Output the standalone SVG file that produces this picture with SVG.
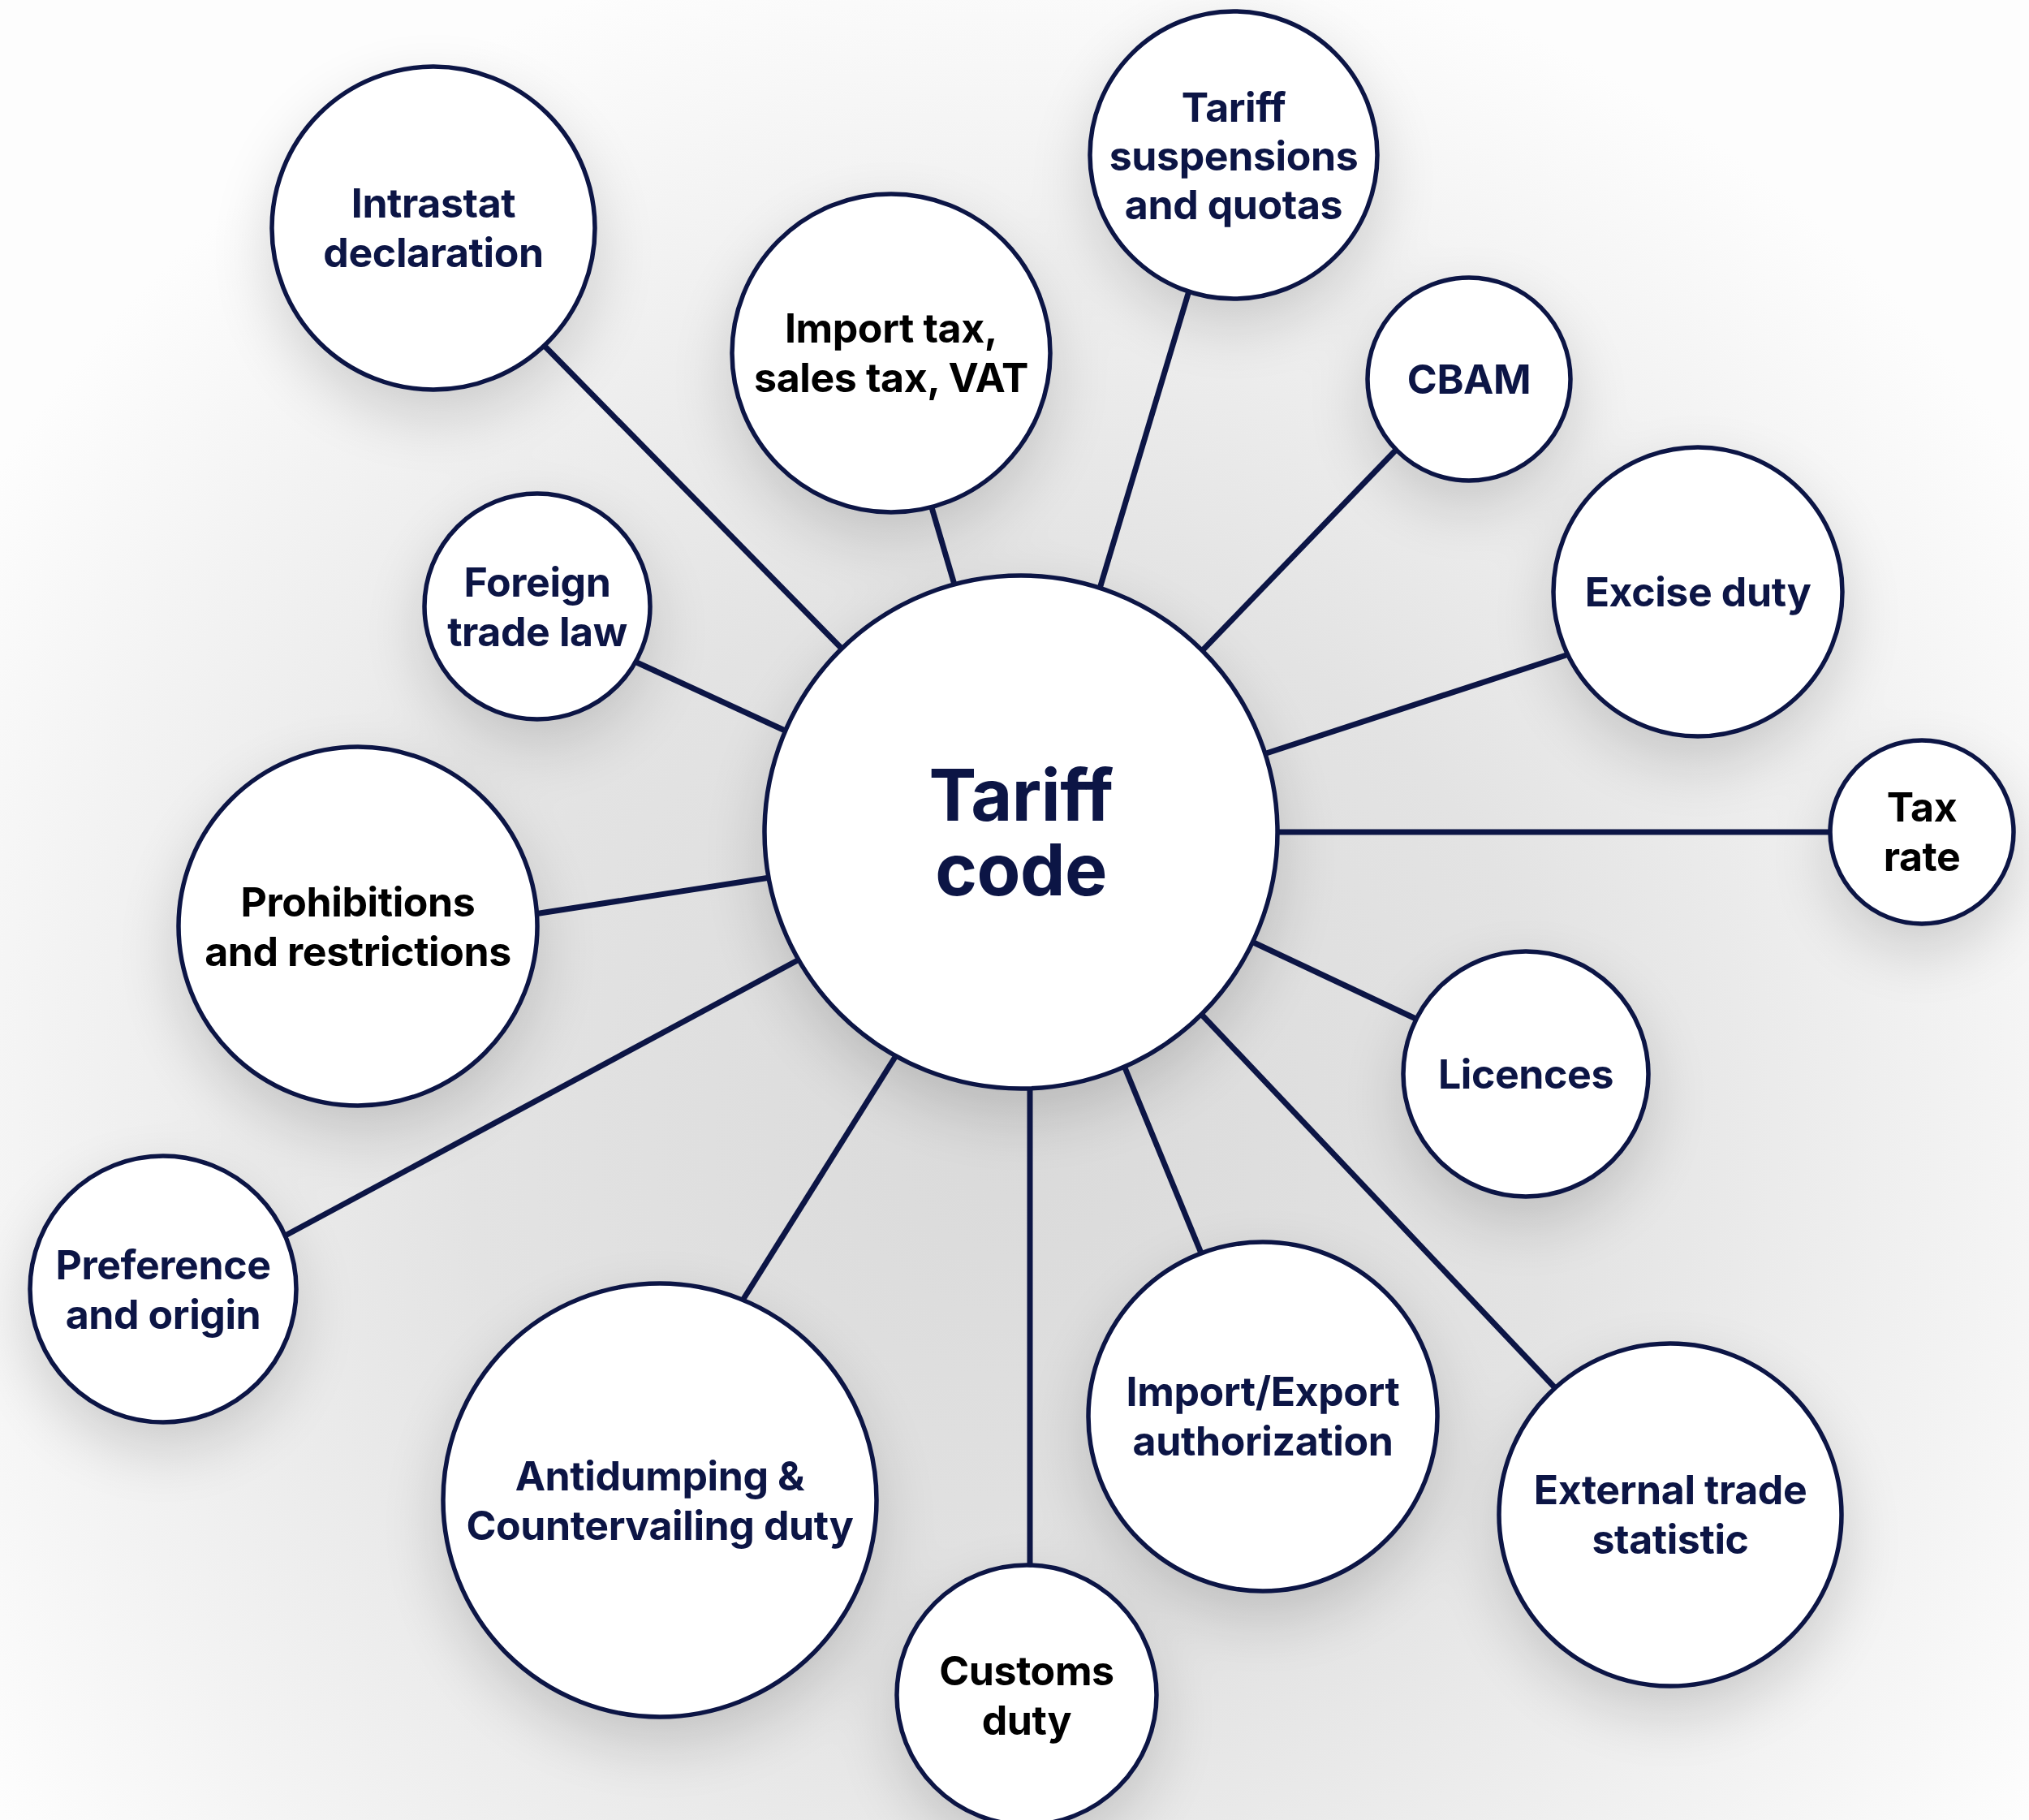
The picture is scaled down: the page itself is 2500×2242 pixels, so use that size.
<svg xmlns="http://www.w3.org/2000/svg" width="2500" height="2242" viewBox="0 0 2500 2242">
<defs>
<radialGradient id="bg" gradientUnits="userSpaceOnUse" cx="1250" cy="1400" r="1500">
<stop offset="0" stop-color="#dadada"/>
<stop offset="0.45" stop-color="#e3e3e3"/>
<stop offset="0.8" stop-color="#f3f3f3"/>
<stop offset="1" stop-color="#fdfdfd"/>
</radialGradient>
<filter id="blur" x="-20%" y="-20%" width="140%" height="140%">
<feGaussianBlur stdDeviation="40"/>
</filter>
<style>
.c{fill:#ffffff;stroke:#0c1545;stroke-width:5.5}
.l{stroke:#0c1545;stroke-width:7;fill:none}
.t{font-family:Inter,"Liberation Sans",sans-serif;font-weight:700;font-size:50px;letter-spacing:-0.4px;text-anchor:middle;fill:#0c1545}
.k{fill:#000000}
.big{font-size:88px;letter-spacing:-0.5px}
</style>
</defs>
<rect x="0" y="0" width="2500" height="2242" fill="url(#bg)"/>
<g id="shadows" filter="url(#blur)" fill="#000000" opacity="0.16" transform="translate(0,30)">
<circle cx="1258" cy="1025" r="316"/>
<circle cx="534" cy="281" r="199"/>
<circle cx="1098" cy="435" r="196"/>
<circle cx="1520" cy="191" r="177"/>
<circle cx="1810" cy="467" r="125"/>
<circle cx="2092" cy="729" r="178"/>
<circle cx="2368" cy="1025" r="113"/>
<circle cx="1880" cy="1323" r="151"/>
<circle cx="2058" cy="1866" r="211"/>
<circle cx="1556" cy="1745" r="215"/>
<circle cx="1265" cy="2088" r="160"/>
<circle cx="813" cy="1848" r="267"/>
<circle cx="201" cy="1588" r="164"/>
<circle cx="441" cy="1141" r="221"/>
<circle cx="662" cy="747" r="139"/>
</g>
<g id="connectors">
<line class="l" x1="660" y1="415" x2="1046" y2="808"/>
<line class="l" x1="1145" y1="615" x2="1178" y2="727"/>
<line class="l" x1="1466" y1="355" x2="1352" y2="735"/>
<line class="l" x1="1727" y1="547" x2="1476" y2="807"/>
<line class="l" x1="1939" y1="804" x2="1551" y2="931"/>
<line class="l" x1="1564" y1="1025" x2="2268" y2="1025"/>
<line class="l" x1="1536" y1="1157" x2="1753" y2="1259"/>
<line class="l" x1="1476" y1="1245" x2="1923" y2="1717"/>
<line class="l" x1="1383" y1="1308" x2="1483" y2="1551"/>
<line class="l" x1="1269" y1="1334" x2="1269" y2="1938"/>
<line class="l" x1="1108" y1="1294" x2="913" y2="1605"/>
<line class="l" x1="992" y1="1178" x2="344" y2="1526"/>
<line class="l" x1="955" y1="1080" x2="652" y2="1127"/>
<line class="l" x1="976" y1="904" x2="778" y2="813"/>
</g>
<g id="node-tariff-code">
<circle class="c" cx="1258" cy="1025" r="316"/>
<text class="t big" x="1258" y="1011">Tariff<tspan x="1258" dy="92">code</tspan></text>
</g>
<g id="node-intrastat">
<circle class="c" cx="534" cy="281" r="199"/>
<text class="t" x="534" y="268">Intrastat<tspan x="534" dy="61">declaration</tspan></text>
</g>
<g id="node-import-tax">
<circle class="c" cx="1098" cy="435" r="196"/>
<text class="t k" x="1098" y="422">Import tax,<tspan x="1098" dy="61">sales tax, VAT</tspan></text>
</g>
<g id="node-tariff-suspensions">
<circle class="c" cx="1520" cy="191" r="177"/>
<text class="t" x="1520" y="150">Tariff<tspan x="1520" dy="60">suspensions</tspan><tspan x="1520" dy="60">and quotas</tspan></text>
</g>
<g id="node-cbam">
<circle class="c" cx="1810" cy="467" r="125"/>
<text class="t" x="1810" y="485">CBAM</text>
</g>
<g id="node-excise-duty">
<circle class="c" cx="2092" cy="729" r="178"/>
<text class="t" x="2092" y="747">Excise duty</text>
</g>
<g id="node-tax-rate">
<circle class="c" cx="2368" cy="1025" r="113"/>
<text class="t k" x="2368" y="1012">Tax<tspan x="2368" dy="61">rate</tspan></text>
</g>
<g id="node-licences">
<circle class="c" cx="1880" cy="1323" r="151"/>
<text class="t" x="1880" y="1341">Licences</text>
</g>
<g id="node-external-trade">
<circle class="c" cx="2058" cy="1866" r="211"/>
<text class="t" x="2058" y="1853">External trade<tspan x="2058" dy="61">statistic</tspan></text>
</g>
<g id="node-import-export">
<circle class="c" cx="1556" cy="1745" r="215"/>
<text class="t" x="1556" y="1732">Import/Export<tspan x="1556" dy="61">authorization</tspan></text>
</g>
<g id="node-customs-duty">
<circle class="c" cx="1265" cy="2088" r="160"/>
<text class="t k" x="1265" y="2076">Customs<tspan x="1265" dy="61">duty</tspan></text>
</g>
<g id="node-antidumping">
<circle class="c" cx="813" cy="1848" r="267"/>
<text class="t" x="813" y="1836">Antidumping &amp;<tspan x="813" dy="61">Countervailing duty</tspan></text>
</g>
<g id="node-preference">
<circle class="c" cx="201" cy="1588" r="164"/>
<text class="t" x="201" y="1576">Preference<tspan x="201" dy="61">and origin</tspan></text>
</g>
<g id="node-prohibitions">
<circle class="c" cx="441" cy="1141" r="221"/>
<text class="t k" x="441" y="1129">Prohibitions<tspan x="441" dy="61">and restrictions</tspan></text>
</g>
<g id="node-foreign-trade">
<circle class="c" cx="662" cy="747" r="139"/>
<text class="t" x="662" y="735">Foreign<tspan x="662" dy="61">trade law</tspan></text>
</g>
</svg>
